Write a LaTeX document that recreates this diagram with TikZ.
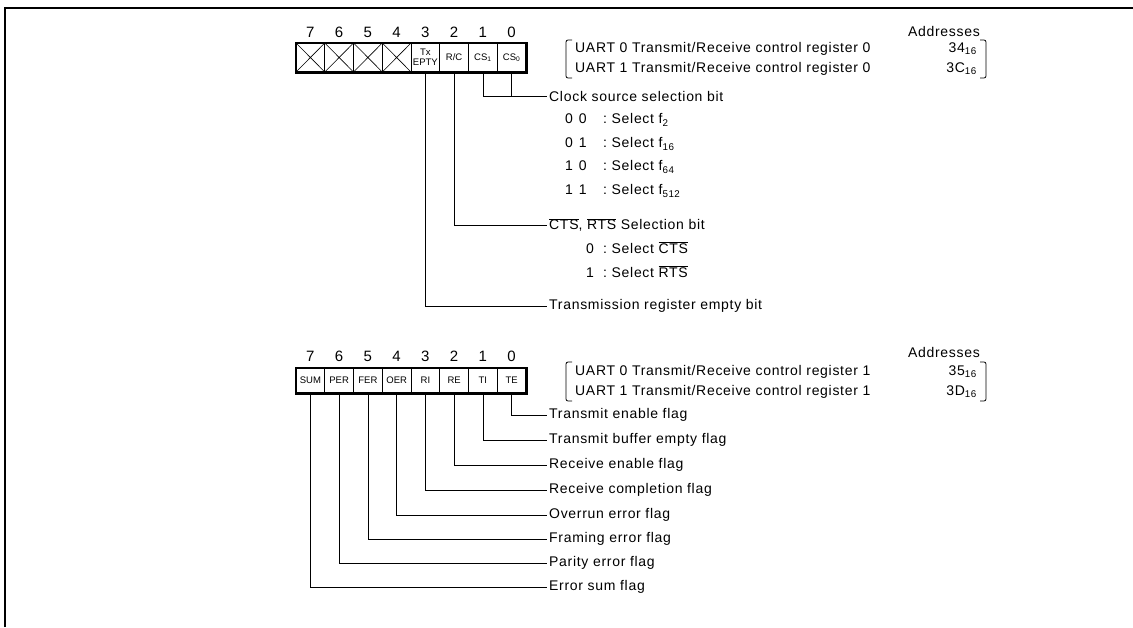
\documentclass[tikz,border=0pt]{standalone}
\usepackage{fontspec}
\setmainfont{Liberation Sans}
\usetikzlibrary{positioning}
\newcommand{\barsig}[1]{$\overline{\mbox{#1}}$}
\tikzset{
  lbl/.style={font=\fontsize{14}{16}\selectfont\addfontfeatures{LetterSpace=5}, anchor=west, inner sep=2pt},
  bitno/.style={font=\fontsize{15}{16}\selectfont, inner sep=0pt},
  cell/.style={draw, line width=0.6pt, minimum width=28.75pt, minimum height=#1,
               inner sep=0pt, font=\fontsize{9.5}{10}\selectfont, align=center},
  wire/.style={line width=0.8pt},
  frame/.style={line width=2.4pt},
}
\begin{document}
\begin{tikzpicture}[x=1pt, y=-1pt]
  \useasboundingbox (0,0) rectangle (1133,627);
  \draw[frame] (5,627) -- (5,8) -- (1133,8);
  % control register 0
  \foreach \b/\t in {7/{},6/{},5/{},4/{},3/{\hfill Tx\\EPTY},2/{R/C},1/{CS\textsubscript{1}},0/{CS\textsubscript{0}}} {
    \node[cell=29pt] (a\b) at ({310.4+28.75*(7-\b)},57.5) {\t};
    \node[bitno] (na\b) at ({310.4+28.75*(7-\b)},32) {\b};
  }
  \foreach \b in {7,...,4}
    \draw[line width=0.6pt] (a\b.north west) -- (a\b.south east) (a\b.north east) -- (a\b.south west);
  \draw[line width=2.4pt] (a7.north west) rectangle (a0.south east);
  \node[lbl, anchor=east] (adra) at (982,31) {Addresses};
  \node[lbl] (ua0) at (573,49) {UART 0 Transmit/Receive control register 0};
  \node[lbl, anchor=east] (ha0) at (979,49) {34\textsubscript{16}};
  \node[lbl] (ua1) at (573,69) {UART 1 Transmit/Receive control register 0};
  \node[lbl, anchor=east] (ha1) at (979,69) {3C\textsubscript{16}};
  \draw[wire, rounded corners=2pt] (572,40) -- (566,40) -- (566,78) -- (572,78);
  \draw[wire, rounded corners=2pt] (980,40) -- (986,40) -- (986,78) -- (980,78);
  \node[lbl] (ck) at (547,96) {Clock source selection bit};
  \draw[wire] (a1.south) |- (ck.west);
  \draw[wire] (a0.south) -- (a0.south |- ck.west);
  \foreach \v/\w/\s/\y [count=\k] in {0/0/2/120, 0/1/16/144, 1/0/64/167, 1/1/512/191}
    \node[lbl] (cko\k) at (563,\y) {\makebox[38pt][l]{\v\hspace{6pt}\w}:\ Select f\textsubscript{\s}};
  \node[lbl] (cts) at (547,225) {\barsig{CTS}, \barsig{RTS} Selection bit};
  \draw[wire] (a2.south) |- (cts.west);
  \node[lbl] (ctso1) at (584,248) {\makebox[17pt][l]{0}:\ Select \barsig{CTS}};
  \node[lbl] (ctso2) at (584,272) {\makebox[17pt][l]{1}:\ Select \barsig{RTS}};
  \node[lbl] (tre) at (547,306) {Transmission register empty bit};
  \draw[wire] (a3.south) |- (tre.west);
  % control register 1
  \foreach \b/\t in {7/SUM,6/PER,5/FER,4/OER,3/RI,2/RE,1/TI,0/TE} {
    \node[cell=25pt] (b\b) at ({310.4+28.75*(7-\b)},380.5) {\t};
    \node[bitno] (nb\b) at ({310.4+28.75*(7-\b)},356) {\b};
  }
  \draw[line width=2.4pt] (b7.north west) rectangle (b0.south east);
  \node[lbl, anchor=east] (adrb) at (982,352) {Addresses};
  \node[lbl] (ub0) at (573,372) {UART 0 Transmit/Receive control register 1};
  \node[lbl, anchor=east] (hb0) at (979,372) {35\textsubscript{16}};
  \node[lbl] (ub1) at (573,392) {UART 1 Transmit/Receive control register 1};
  \node[lbl, anchor=east] (hb1) at (979,392) {3D\textsubscript{16}};
  \draw[wire, rounded corners=2pt] (572,362) -- (566,362) -- (566,401) -- (572,401);
  \draw[wire, rounded corners=2pt] (980,362) -- (986,362) -- (986,401) -- (980,401);
  \foreach \b/\y/\t in {0/415/Transmit enable flag, 1/440/Transmit buffer empty flag,
      2/465/Receive enable flag, 3/490/Receive completion flag, 4/515/Overrun error flag,
      5/539/Framing error flag, 6/563/Parity error flag, 7/587/Error sum flag} {
    \node[lbl] (fl\b) at (547,\y) {\t};
    \draw[wire] (b\b.south) |- (fl\b.west);
  }
\end{tikzpicture}
\end{document}
